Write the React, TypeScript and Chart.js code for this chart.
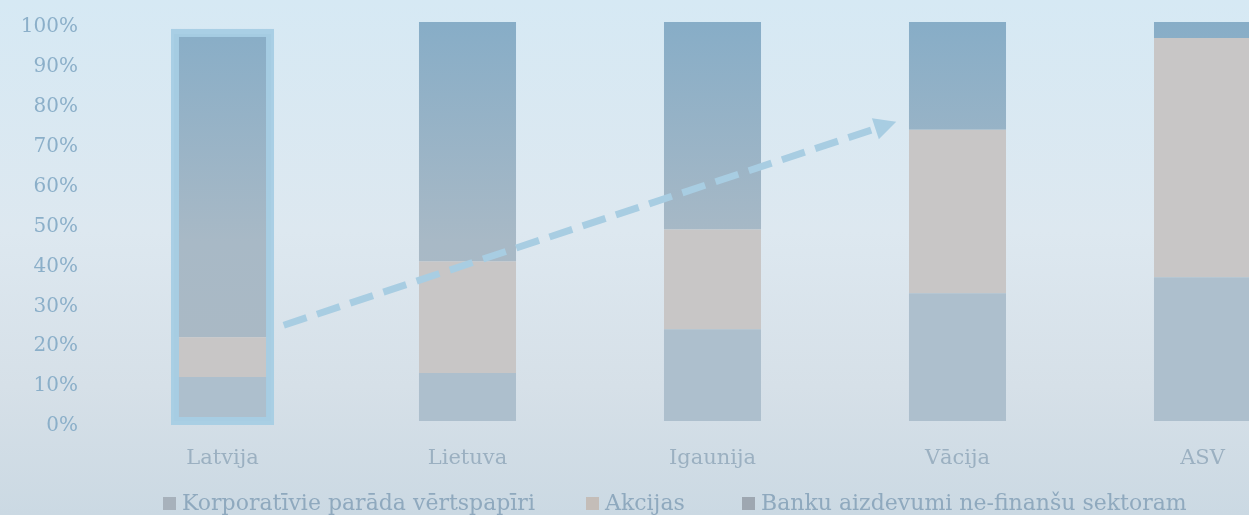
import React, { useEffect, useRef } from "react";
import { Chart, registerables } from "chart.js";

Chart.register(...registerables);

const CATEGORIES = ["Latvija", "Lietuva", "Igaunija", "Vācija", "ASV"];
const SERIES_NAMES = [
  "Korporatīvie parāda vērtspapīri",
  "Akcijas",
  "Banku aizdevumi ne-finanšu sektoram",
];
const CORP_BONDS = [11, 12, 23, 32, 36];
const EQUITIES = [10, 28, 25, 41, 60];
const BANK_LOANS = [76, 60, 52, 27, 4];
const Y_TICKS = [0, 10, 20, 30, 40, 50, 60, 70, 80, 90, 100];
const HIGHLIGHT_INDEX = 0;
const ARROW_FROM = { x: 0.25, y: 24 };
const ARROW_TO = { x: 2.75, y: 75 };

const FONT = "'DejaVu Serif', 'Liberation Serif', serif";
const LEGEND_COLORS = ["#a7b1bb", "#c4bdb8", "#9ea7b1"];
const LEGEND_LEFT = [163, 586, 742];

const highlightPlugin = {
  id: "highlightBar",
  afterDatasetsDraw(chart: any) {
    const first = chart.getDatasetMeta(0).data[HIGHLIGHT_INDEX];
    const last = chart.getDatasetMeta(2).data[HIGHLIGHT_INDEX];
    if (!first || !last) return;
    const ctx = chart.ctx;
    const w = first.width;
    ctx.save();
    ctx.strokeStyle = "rgba(166,206,228,0.95)";
    ctx.lineWidth = 8;
    ctx.strokeRect(first.x - w / 2 + 1, last.y - 1, w - 2, first.base - last.y + 1);
    ctx.restore();
  },
};

const arrowPlugin = {
  id: "trendArrow",
  afterDatasetsDraw(chart: any) {
    const xs = chart.scales.x;
    const ys = chart.scales.y;
    const x1 = xs.getPixelForValue(ARROW_FROM.x);
    const y1 = ys.getPixelForValue(ARROW_FROM.y);
    const x2 = xs.getPixelForValue(ARROW_TO.x);
    const y2 = ys.getPixelForValue(ARROW_TO.y);
    const ang = Math.atan2(y2 - y1, x2 - x1);
    const headLen = 22;
    const headHalf = 11;
    const ctx = chart.ctx;
    ctx.save();
    ctx.strokeStyle = "#a8cde2";
    ctx.fillStyle = "#a8cde2";
    ctx.lineWidth = 7;
    ctx.setLineDash([24, 11]);
    ctx.beginPath();
    ctx.moveTo(x1, y1);
    const bx = x2 - Math.cos(ang) * headLen;
    const by = y2 - Math.sin(ang) * headLen;
    ctx.lineTo(bx, by);
    ctx.stroke();
    ctx.setLineDash([]);
    ctx.beginPath();
    ctx.moveTo(x2, y2);
    ctx.lineTo(bx + Math.sin(ang) * headHalf, by - Math.cos(ang) * headHalf);
    ctx.lineTo(bx - Math.sin(ang) * headHalf, by + Math.cos(ang) * headHalf);
    ctx.closePath();
    ctx.fill();
    ctx.restore();
  },
};

function bankGradient(context: any) {
  const chart = context.chart;
  const area = chart.chartArea;
  if (!area) return "#9db4c6";
  const g = chart.ctx.createLinearGradient(0, area.top, 0, area.bottom);
  g.addColorStop(0, "#87adc7");
  g.addColorStop(0.55, "#a8b9c6");
  g.addColorStop(1, "#abb9c4");
  return g;
}

export default function App() {
  const canvasRef = useRef<HTMLCanvasElement | null>(null);

  useEffect(() => {
    if (!canvasRef.current) return;
    const chart = new Chart(canvasRef.current, {
      type: "bar",
      data: {
        labels: CATEGORIES,
        datasets: [
          { label: SERIES_NAMES[0], data: CORP_BONDS, backgroundColor: "#adbfcd" },
          { label: SERIES_NAMES[1], data: EQUITIES, backgroundColor: "#c8c6c6" },
          { label: SERIES_NAMES[2], data: BANK_LOANS, backgroundColor: bankGradient },
        ],
      },
      options: {
        responsive: false,
        animation: false,
        datasets: {
          bar: { categoryPercentage: 1, barPercentage: 0.396, borderWidth: 0 },
        },
        layout: { padding: { left: 0, right: 65, top: 22, bottom: 42 } },
        scales: {
          x: {
            stacked: true,
            grid: { display: false, drawTicks: false },
            border: { display: false },
            ticks: {
              color: "#9bb0c1",
              font: { family: FONT, size: 21 },
              padding: 25,
              maxRotation: 0,
            },
            afterFit(scale: any) {
              scale.height = 52;
            },
          },
          y: {
            stacked: true,
            min: 0,
            max: 100,
            grid: { display: false, drawTicks: false },
            border: { display: false },
            afterBuildTicks(scale: any) {
              scale.ticks = Y_TICKS.map((v) => ({ value: v }));
            },
            ticks: {
              color: "#8bafc9",
              font: { family: FONT, size: 20 },
              padding: 22,
              labelOffset: 5,
              callback: (v: any) => v + "%",
            },
            afterFit(scale: any) {
              scale.width = 100;
              scale.paddingTop = 0;
              scale.paddingBottom = 0;
            },
          },
        },
        plugins: {
          tooltip: { enabled: false },
          legend: { display: false },
        },
      },
      plugins: [highlightPlugin, arrowPlugin],
    });
    return () => chart.destroy();
  }, []);

  return (
    <div
      style={{
        position: "fixed",
        left: 0,
        top: 0,
        width: 1249,
        height: 515,
        overflow: "hidden",
        background:
          "linear-gradient(180deg, #d6e9f4 0%, #dde8f0 45%, #d6e0e8 75%, #cbd9e3 100%)",
      }}
    >
      <canvas ref={canvasRef} width={1390} height={515} style={{ display: "block" }} />
      {SERIES_NAMES.map((name, i) => (
        <div
          key={name}
          style={{
            position: "absolute",
            left: LEGEND_LEFT[i],
            top: 492,
            display: "flex",
            alignItems: "center",
            fontFamily: FONT,
            fontSize: 22,
            lineHeight: "22px",
            color: "#8fa9be",
            whiteSpace: "nowrap",
          }}
        >
          <span
            style={{
              display: "inline-block",
              width: 13,
              height: 13,
              marginRight: 6,
              background: LEGEND_COLORS[i],
            }}
          />
          <span>{name}</span>
        </div>
      ))}
    </div>
  );
}
